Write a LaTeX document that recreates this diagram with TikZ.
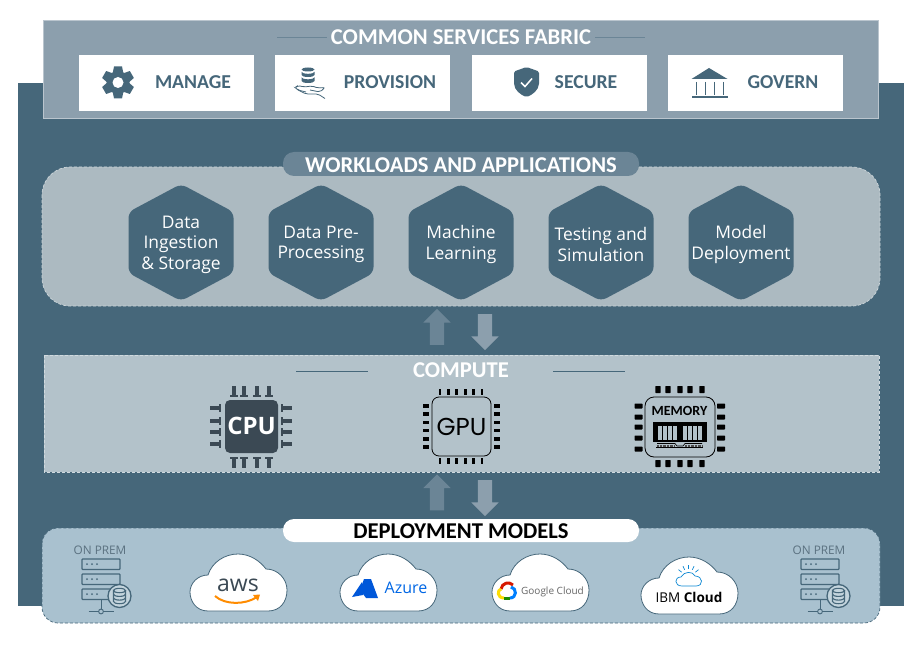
\documentclass[tikz,border=0pt]{standalone}
\usepackage{fontspec}
\setmainfont{Open Sans}
\newfontfamily\headfont{Carlito}
\newfontfamily\chipfont{Poppins}
\usetikzlibrary{shapes,arrows,calc}
\definecolor{slate}{HTML}{46677A}
\definecolor{steel}{HTML}{8C9FAD}
\definecolor{pillblue}{HTML}{6B8596}
\definecolor{loadbg}{HTML}{ACBAC1}
\definecolor{compbg}{HTML}{B3C2CA}
\definecolor{depbg}{HTML}{A9C1CF}
\definecolor{chipdark}{HTML}{3B4954}
\tikzset{
  whitebox/.style={fill=white,minimum width=175pt,minimum height=56pt,inner sep=0pt},
  boxlabel/.style={font=\headfont\bfseries\fontsize{19.7}{22}\selectfont,text=slate,inner sep=0pt},
  headlabel/.style={font=\headfont\bfseries\fontsize{22.6}{24}\selectfont,inner sep=0pt},
  hexlabel/.style={font=\fontsize{17.4}{20.5}\selectfont,text=white,align=center,inner sep=0pt},
  blockup/.style={single arrow,shape border rotate=90,fill=pillblue,minimum height=36pt,minimum width=27pt,
    single arrow head extend=6.5pt,inner sep=7pt},
  blockdown/.style={single arrow,shape border rotate=270,fill=steel,minimum height=36pt,minimum width=27pt,
    single arrow head extend=6.5pt,inner sep=7pt},
  pics/cloudshape/.style={code={
    \draw[slate,fill=white,line width=.8pt] (18,57) .. controls (6,57) and (0,47) .. (0,38)
      .. controls (0,29) and (8,21) .. (18,21) .. controls (22,8) and (35,0) .. (48,0)
      .. controls (60,0) and (70,7) .. (76,15) .. controls (88,15) and (97,25) .. (97,36)
      .. controls (97,48) and (90,57) .. (78,57) -- cycle;
  }},
  pics/servershape/.style={code={
    \foreach \y in {0,15,30} {
      \draw[slate,line width=1.2pt,rounded corners=.8pt] (0,\y) rectangle (38,\y+10.5);
      \foreach \x in {5,10,15} \fill[slate] (\x,\y+5.2) circle (1);
    }
    \draw[slate,line width=1pt] (19,41) -- (19,52.5) (6.5,52.5) -- (31.5,52.5);
    \draw[slate,fill=depbg,line width=.9pt] (19,52.5) circle (2.4);
    \draw[slate,fill=depbg!70!white,line width=1.3pt] (37.5,37) circle (11.5);
    \draw[slate,line width=1.1pt] (31.5,31.5) arc (180:540:6 and 2.2) -- (31.5,42.5) arc (180:0:6 and 2.2) -- (43.5,31.5);
    \draw[slate,line width=1.1pt] (31.5,35.2) arc (180:0:6 and 2.2) (31.5,38.9) arc (180:0:6 and 2.2);
  }}
}
\begin{document}
\begin{tikzpicture}[x=1pt,y=-1pt]
  \useasboundingbox (0,0) rectangle (920,647);
  \fill[slate] (18,83) rectangle (904,606);

  \draw[fill=steel,draw=steel!60!white,line width=.8pt] (43.5,20.5) rectangle (878.5,118.5);
  \node[headlabel,text=white] (fabric) at (461,37.5) {COMMON SERVICES FABRIC};
  \coordinate (fabl) at (277,38);
  \coordinate (fabr) at (645,38);
  \draw[pillblue,line width=1pt] (fabl) -- (327,38);
  \draw[pillblue,line width=1pt] (595,38) -- (fabr);
  \node[whitebox] (manage) at (166.5,83) {};
  \node[whitebox] (provision) at (362.5,83) {};
  \node[whitebox] (secure) at (559.5,83) {};
  \node[whitebox] (govern) at (755.5,83) {};
  \node[boxlabel] (managetxt) at (193,82) {MANAGE};
  \node[boxlabel] (provisiontxt) at (390,82) {PROVISION};
  \node[boxlabel] (securetxt) at (586,82) {SECURE};
  \node[boxlabel] (governtxt) at (783,82) {GOVERN};

  \foreach \a in {0,60,...,300}
    \fill[slate,rotate around={\a:(118,82.5)}] (114,66.5) -- (122,66.5) -- (123.5,74) -- (112.5,74) -- cycle;
  \fill[slate] (118,82.5) circle (11.5);
  \fill[white] (118,82.5) circle (5.5);

  \fill[slate] (308,69.5) ellipse (6.5 and 2);
  \fill[slate] (301.5,71.8) arc (180:0:6.5 and 2) -- (314.5,75) arc (0:180:6.5 and 2) -- cycle;
  \fill[slate] (301.5,77.3) arc (180:0:6.5 and 2) -- (314.5,81) arc (0:180:6.5 and 2) -- cycle;
  \draw[slate,line width=.8pt,rounded corners=2pt] (306,92) -- (298,90) -- (295,87.5) -- (298,85.5)
    -- (304,87) -- (312,86) -- (318,88) -- (325,87.5) -- (320,92) -- (310,90);
  \draw[slate,line width=.8pt,rounded corners=2pt] (298,90) -- (306,94) -- (318,94) -- (325,98.5);

  \fill[slate,rounded corners=1.5pt] (526.5,67) -- (539,71.5) -- (539,82) .. controls (539,90) and (532,95) .. (526.5,97)
    .. controls (521,95) and (514,90) .. (514,82) -- (514,71.5) -- cycle;
  \draw[white,line width=1.5pt] (521,82.5) -- (525,86.5) -- (532,78.5);

  \fill[slate] (709,68) -- (727.5,79) -- (691.5,79) -- cycle;
  \foreach \x in {696,705,714,723}
    \draw[slate,line width=1pt] (\x,82) -- (\x,95);
  \draw[slate,line width=1.2pt] (692,97) -- (728,97);

  \draw[fill=loadbg,draw=loadbg!60!white,densely dashed,line width=.7pt,rounded corners=28pt] (42,167) rectangle (880,306);
  \node[fill=pillblue,rounded corners=11pt,minimum width=356pt,minimum height=24pt,inner sep=0pt] (workpill) at (461,164) {};
  \node[headlabel,text=white] (worktxt) at (461,165) {WORKLOADS AND APPLICATIONS};
  \foreach \x/\n/\t in {181/ingest/{Data\\Ingestion\\\& Storage},321/prep/{Data Pre-\\Processing},
      461/learn/{Machine\\Learning},601/test/{Testing and\\Simulation},741/deploy/{Model\\Deployment}} {
    \fill[slate,rounded corners=6pt] (\x,184) -- (\x+52.5,212) -- (\x+52.5,273) -- (\x,301)
      -- (\x-52.5,273) -- (\x-52.5,212) -- cycle;
    \node[hexlabel] (\n) at (\x,244.5) {\t};
  }

  \node[blockup] (upa) at (437,330.5) {};
  \node[blockdown] (downa) at (485,328.5) {};
  \node[blockup] (upb) at (437,496) {};
  \node[blockdown] (downb) at (485,494.5) {};

  \draw[fill=compbg,draw=compbg!60!white,densely dashed,line width=.7pt] (44,355) rectangle (879,472);
  \node[headlabel,text=white] (comptxt) at (461,370.5) {COMPUTE};
  \coordinate (cla) at (296,371);
  \coordinate (clb) at (368,371);
  \coordinate (cra) at (553,371);
  \coordinate (crb) at (625,371);
  \draw[slate,line width=.8pt] (cla) -- (clb);
  \draw[slate,line width=.8pt] (cra) -- (crb);

  \fill[chipdark,rounded corners=5pt] (225,400) rectangle (278,453);
  \node[font=\bfseries\fontsize{24}{26}\selectfont,text=white,inner sep=0pt] (cpu) at (251.5,426) {CPU};
  \foreach \x in {234,244,257,269} {
    \draw[chipdark,line width=3.2pt] (\x,386) -- (\x,395);
    \draw[chipdark,line width=2.6pt] (\x-4,396) -- (\x+4,396);
    \draw[chipdark,line width=3.2pt] (\x,459) -- (\x,468);
    \draw[chipdark,line width=2.6pt] (\x-4,458) -- (\x+4,458);
  }
  \foreach \y in {408,421,432,444} {
    \draw[chipdark,line width=3.2pt] (210,\y) -- (220,\y);
    \draw[chipdark,line width=2.6pt] (220,\y-4) -- (220,\y+4);
    \draw[chipdark,line width=3.2pt] (283,\y) -- (292,\y);
    \draw[chipdark,line width=2.6pt] (282,\y-4) -- (282,\y+4);
  }

  \draw[black,line width=.8pt,rounded corners=7pt] (432,397) rectangle (491,456);
  \node[font=\chipfont\fontsize{24.5}{30}\selectfont,text=black,inner sep=0pt] (gpu) at (461.5,427) {GPU};
  \foreach \x in {440,448.4,456.8,465.2,473.6,482} {
    \fill[black] (\x-1.4,389) rectangle (\x+1.4,395);
    \fill[black] (\x-1.4,458) rectangle (\x+1.4,464);
  }
  \foreach \y in {406,414.2,422.4,430.6,438.8,447} {
    \fill[black] (423,\y-1.8) rectangle (429,\y+1.8);
    \fill[black] (493.5,\y-1.8) rectangle (499.5,\y+1.8);
  }

  \draw[black,line width=.8pt,rounded corners=9pt] (645,397) rectangle (715,457);
  \node[font=\headfont\bfseries\fontsize{14}{16}\selectfont,text=black,inner sep=0pt] (memory) at (679.5,411) {MEMORY};
  \fill[black] (653,422) rectangle (706.5,442);
  \foreach \x in {658,663,668,673,683,688,693,698}
    \fill[compbg] (\x,426) rectangle (\x+4,440);
  \draw[black,line width=.6pt] (657,443.5) -- (675,443.5) -- (677,446) -- (683,446) -- (685,443.5) -- (702,443.5);
  \draw[black!70,line width=2pt,dash pattern=on .7pt off .7pt] (657,446) -- (675,446) (685,446) -- (702,446);
  \draw[black,line width=.8pt] (656,447.7) -- (703,447.7);
  \foreach \x in {658,668,680,690,702} {
    \fill[black,rounded corners=.6pt] (\x-2.7,386) rectangle (\x+2.7,393);
    \fill[black,rounded corners=.6pt] (\x-2.7,460) rectangle (\x+2.7,467);
  }
  \foreach \y in {406,417,427,438,449} {
    \fill[black,rounded corners=.6pt] (634.5,\y-2.5) rectangle (642.5,\y+2.5);
    \fill[black,rounded corners=.6pt] (717,\y-2.5) rectangle (725,\y+2.5);
  }

  \draw[fill=depbg,draw=slate,densely dashed,line width=.7pt,rounded corners=16pt] (42,528) rectangle (880,623);
  \node[fill=white,rounded corners=11pt,minimum width=356pt,minimum height=23pt,inner sep=0pt] (deppill) at (461,530.5) {};
  \node[headlabel,text=black] (deptxt) at (461,531.5) {DEPLOYMENT MODELS};

  \node[font=\fontsize{11.8}{13}\selectfont,text=pillblue!85!black,inner sep=0pt] (preml) at (100,550) {ON PREM};
  \node[font=\fontsize{11.8}{13}\selectfont,text=pillblue!85!black,inner sep=0pt] (premr) at (819,550) {ON PREM};
  \pic at (82,559) {servershape};
  \pic at (801,559) {servershape};

  \pic at (190,554) {cloudshape};
  \pic at (340,554) {cloudshape};
  \pic at (492,554) {cloudshape};
  \pic at (641,557) {cloudshape};

  \node[font=\fontsize{23}{25}\selectfont,text=chipdark,inner sep=0pt] (aws) at (238,585) {aws};
  \draw[orange!90!yellow,line width=2pt] (215,596) .. controls (225,605) and (245,605) .. (257,597);
  \fill[orange!90!yellow] (253,595) -- (260,594.5) -- (258,601) -- cycle;

  \fill[blue!60!cyan!85!black] (364,579) -- (371,579) -- (378,598) -- (366,598) -- (360,590) -- cycle;
  \fill[blue!60!cyan!85!black] (362,582) -- (352,597) -- (363,595) -- cycle;
  \node[font=\fontsize{16}{20}\selectfont,text=blue!55!cyan!90!black,inner sep=0pt] (azure) at (406,588) {Azure};

  \draw[red!80!black!80!orange,line width=3pt] (501,589) .. controls (502,583) and (509,581) .. (513,585);
  \draw[yellow!80!orange,line width=3pt] (504,598) .. controls (497,598) and (497,590) .. (501,589);
  \draw[green!50!black!90!yellow,line width=3pt] (504,598) -- (510,598);
  \draw[blue!50!cyan,line width=3pt] (510,598) .. controls (517,598) and (517,588) .. (511,587);
  \node[font=\fontsize{10}{12}\selectfont,text=black!60,inner sep=0pt] (google) at (552.5,592) {Google Cloud};

  \draw[cyan!70!blue,line width=.7pt] (682,586) .. controls (674,586) and (674,577) .. (681,577)
    .. controls (684,571) and (693,571) .. (695,576) .. controls (703,576) and (704,586) .. (696,586) -- cycle;
  \foreach \a in {-40,-65,-90,-115,-140}
    \draw[cyan!70!blue,line width=.7pt] ($(688.5,578)+(\a:9)$) -- ($(688.5,578)+(\a:13)$);
  \node[font=\fontsize{13.5}{16}\selectfont,text=black,inner sep=0pt] (ibm) at (689,597) {IBM \textbf{Cloud}};
\end{tikzpicture}
\end{document}
